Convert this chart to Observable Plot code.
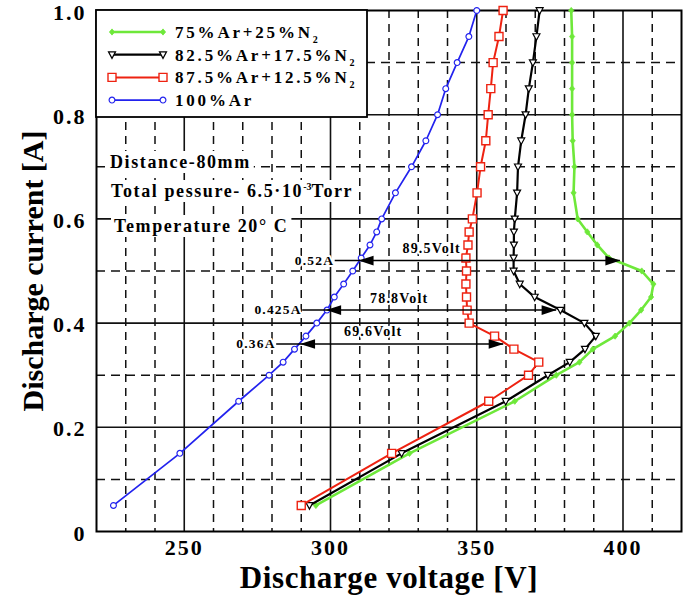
<!DOCTYPE html>
<html>
<head>
<meta charset="utf-8">
<script src="https://cdn.jsdelivr.net/npm/d3@7"></script>
<script src="https://cdn.jsdelivr.net/npm/@observablehq/plot@0.6"></script>
<style>
  html, body { margin: 0; padding: 0; background: #fff; }
  #chart svg { display: block; }
</style>
</head>
<body>
<div id="chart"></div>
<script>
// Discharge current measured at these set points (A), shared by all four gas mixtures
const currentA = [0.05, 0.15, 0.25, 0.30, 0.325, 0.35, 0.375, 0.40, 0.425, 0.45, 0.475, 0.50,
                  0.525, 0.55, 0.575, 0.60, 0.65, 0.70, 0.75, 0.80, 0.85, 0.90, 0.95, 1.0];

// Discharge voltage (V) for each mixture
const voltage75Ar  = [295.0, 327.0, 363.0, 377.2, 385.1, 389.7, 397.3, 402.2, 406.2, 409.6, 410.4, 406.4,
                      395.2, 391.2, 387.8, 384.5, 383.1, 383.4, 382.8, 382.6, 382.6, 382.6, 382.6, 382.3];
const voltage825Ar = [292.8, 324.3, 359.9, 374.3, 381.8, 387.0, 390.7, 386.8, 378.6, 369.8, 364.7, 362.6,
                      362.6, 362.7, 362.7, 363.0, 363.8, 364.1, 365.2, 366.7, 367.8, 369.2, 370.4, 371.5];
const voltage875Ar = [290.0, 320.9, 354.1, 367.7, 371.2, 362.7, 356.1, 347.4, 346.7, 346.5, 346.3, 346.5,
                      346.3, 347.0, 347.4, 348.5, 350.1, 351.3, 353.1, 353.9, 354.8, 355.6, 357.6, 359.0];
const voltage100Ar = [225.8, 248.5, 268.6, 279.0, 283.8, 287.7, 291.6, 295.3, 298.8, 301.3, 304.5, 307.6,
                      310.5, 313.5, 315.8, 317.5, 322.2, 327.7, 332.6, 336.6, 339.4, 343.3, 347.3, 350.0];

const seriesLabels = ["75%Ar+25%N", "82.5%Ar+17.5%N", "87.5%Ar+12.5%N", "100%Ar"];
const seriesHasN2 = [true, true, true, false];

// Voltage gap annotations: current level, voltage of pure Ar, voltage difference
const gapCurrent = [0.52, 0.425, 0.36];
const gapFromV   = [309.6, 298.5, 289.6];
const gapDeltaV  = [89.5, 78.8, 69.6];

// Axis ticks and grid
const xMajor = [250, 300, 350, 400];
const xMinor = [230, 240, 260, 270, 280, 290, 310, 320, 330, 340, 360, 370, 380, 390, 410];
const yMajor = [0.2, 0.4, 0.6, 0.8];
const yMinor = [0.1, 0.3, 0.5, 0.7, 0.9];
const yTicks = [0, 0.2, 0.4, 0.6, 0.8, 1.0];

const conditionLines = ["Distance-80mm", "Total pessure- 6.5·10", "Temperature 20° C"];

// Marker shapes
const sym = {
  circle: { draw(c, size) { const r = Math.sqrt(size / Math.PI); c.moveTo(r, 0); c.arc(0, 0, r, 0, 2 * Math.PI); c.closePath(); } },
  square: { draw(c, size) { const r = Math.sqrt(size / Math.PI); c.rect(-r, -r, 2 * r, 2 * r); } },
  triDown: { draw(c, size) { const r = Math.sqrt(size / Math.PI); c.moveTo(-r, -r * 0.8); c.lineTo(r, -r * 0.8); c.lineTo(0, r * 1.05); c.closePath(); } },
  diamond: { draw(c, size) { const r = Math.sqrt(size / Math.PI); c.moveTo(0, -r * 1.2); c.lineTo(r, 0); c.lineTo(0, r * 1.2); c.lineTo(-r, 0); c.closePath(); } },
  headLeft: { draw(c) { c.moveTo(0, 0); c.lineTo(15, -4.8); c.lineTo(15, 4.8); c.closePath(); } },
  headRight: { draw(c) { c.moveTo(0, 0); c.lineTo(-15, -4.8); c.lineTo(-15, 4.8); c.closePath(); } }
};

const seriesStyle = [
  { color: "#6ee83a", width: 2.6, symbol: sym.diamond, r: 2.6, fill: "#6ee83a", markStroke: "#6ee83a", markWidth: 0.8 },
  { color: "#000000", width: 2.2, symbol: sym.triDown, r: 3.5, fill: "white", markStroke: "#000000", markWidth: 1.2 },
  { color: "#ee2211", width: 2.0, symbol: sym.square, r: 4.0, fill: "white", markStroke: "#ee2211", markWidth: 1.4 },
  { color: "#2222ee", width: 1.7, symbol: sym.circle, r: 2.9, fill: "white", markStroke: "#2222ee", markWidth: 1.2 }
];

const voltages = [voltage75Ar, voltage825Ar, voltage875Ar, voltage100Ar];
const rows = voltages.flatMap((vs, s) => vs.map((V, i) => ({ series: s, V, I: currentA[i] })));
const gaps = gapCurrent.map((I, i) => ({ I, from: gapFromV[i], delta: gapDeltaV[i] }));

const seriesMarks = seriesStyle.flatMap((st, s) => {
  const data = rows.filter(d => d.series === s);
  return [
    Plot.line(data, { x: "V", y: "I", stroke: st.color, strokeWidth: st.width }),
    Plot.dot(data, { x: "V", y: "I", symbol: st.symbol, r: st.r, fill: st.fill, stroke: st.markStroke, strokeWidth: st.markWidth })
  ];
});

const leader = 8; // extra length of the gap line to the left of the arrow tip (V)

const svg = Plot.plot({
  width: 690,
  height: 598,
  marginLeft: 96,
  marginRight: 9,
  marginTop: 10,
  marginBottom: 67,
  x: { domain: [220, 420] },
  y: { domain: [0, 1] },
  style: { fontFamily: "'Liberation Serif', 'Times New Roman', serif", fontWeight: "bold", background: "white", overflow: "visible" },
  marks: [
    Plot.ruleX(xMinor, { stroke: "#111", strokeWidth: 1.5, strokeDasharray: "8,6" }),
    Plot.ruleY(yMinor, { stroke: "#111", strokeWidth: 1.5, strokeDasharray: "9,6" }),
    Plot.ruleX(xMajor, { stroke: "#111", strokeWidth: 1.6 }),
    Plot.ruleY(yMajor, { stroke: "#111", strokeWidth: 1.6 }),
    Plot.frame({ stroke: "#000", strokeWidth: 2 }),
    Plot.axisX(xMajor, { tickSize: 0, tickPadding: 8, fontSize: 22, label: null }),
    Plot.axisY(yTicks, { tickSize: 0, tickPadding: 10, fontSize: 22, label: null, dy: 2, tickFormat: d => d === 0 ? "0" : d.toFixed(1) }),
    ...seriesMarks,
    // voltage gap arrows
    Plot.ruleY(gaps, { y: "I", x1: d => d.from - leader, x2: d => d.from + d.delta, stroke: "#000", strokeWidth: 1.5 }),
    Plot.dot(gaps, { x: "from", y: "I", symbol: sym.headLeft, fill: "#000", stroke: "none" }),
    Plot.dot(gaps, { x: d => d.from + d.delta, y: "I", symbol: sym.headRight, fill: "#000", stroke: "none" }),
    Plot.text(gaps, { x: d => d.from - leader, y: "I", text: d => `${d.I}A`, textAnchor: "end", dx: -1, fontSize: 13.5, fill: "#000", stroke: "white", strokeWidth: 4 }),
    Plot.text(gaps, { x: d => d.from + 25, y: "I", text: d => `${d.delta}Volt`, dy: -12, fontSize: 14, fill: "#000", stroke: "white", strokeWidth: 4 }),
    // axis titles
    Plot.text(["Discharge voltage [V]"], { text: d => d, frameAnchor: "bottom", textAnchor: "middle", lineAnchor: "middle", dy: 47, fontSize: 31, fill: "#000" }),
    Plot.text(["Discharge current [A]"], { text: d => d, frameAnchor: "left", textAnchor: "middle", lineAnchor: "middle", rotate: -90, dx: -63, fontSize: 30, fill: "#000" })
  ]
});

document.getElementById("chart").append(svg);
const root = d3.select(svg);
root.selectAll("g[aria-label='text'] text")
  .filter(function () { return /(Volt|A)$/.test(this.textContent) && this.textContent.length < 10; })
  .style("letter-spacing", "1.2px");
root.selectAll("g[aria-label='x-axis tick label'] text, g[aria-label='y-axis tick label'] text")
  .style("letter-spacing", "2px");
root.selectAll("text").filter(function () { return this.textContent === "Discharge voltage [V]"; })
  .style("letter-spacing", "0.6px");

// Legend
const legend = root.append("g").attr("font-size", 17).attr("font-weight", "bold").attr("text-anchor", "start");
legend.append("rect").attr("x", 96).attr("y", 10).attr("width", 271).attr("height", 107)
  .attr("fill", "white").attr("stroke", "#000").attr("stroke-width", 1.8);
seriesLabels.forEach((label, i) => {
  const st = seriesStyle[i];
  const y = 32 + i * 22.7;
  legend.append("line").attr("x1", 112).attr("x2", 163).attr("y1", y).attr("y2", y)
    .attr("stroke", st.color).attr("stroke-width", st.width);
  [112, 163].forEach(x => legend.append("path")
    .attr("transform", `translate(${x},${y})`)
    .attr("d", d3.symbol(st.symbol, st.r * st.r * Math.PI)())
    .attr("fill", st.fill).attr("stroke", st.markStroke).attr("stroke-width", st.markWidth));
  const t = legend.append("text").attr("x", 175).attr("y", y + 6).style("letter-spacing", "2.8px");
  t.append("tspan").text(label);
  if (seriesHasN2[i]) t.append("tspan").attr("dy", 5).attr("font-size", 10).style("letter-spacing", "0px").text("2");
});

// Experimental conditions
const notes = root.append("g").attr("font-size", 18).attr("font-weight", "bold").attr("text-anchor", "start");
const noteBase = [[110, 168], [111, 197], [114, 232]];
conditionLines.forEach((line, i) => {
  const t = notes.append("text").attr("x", noteBase[i][0]).attr("y", noteBase[i][1]).style("letter-spacing", "1.6px");
  t.append("tspan").text(line);
  if (i === 1) {
    t.append("tspan").attr("dy", -7).attr("font-size", 10).style("letter-spacing", "0px").text("-3");
    t.append("tspan").attr("dy", 7).text("Torr");
  }
  const b = t.node().getBBox();
  notes.insert("rect", () => t.node()).attr("x", b.x - 3).attr("y", b.y - 1).attr("width", b.width + 6).attr("height", b.height + 2).attr("fill", "white");
});
</script>
</body>
</html>
